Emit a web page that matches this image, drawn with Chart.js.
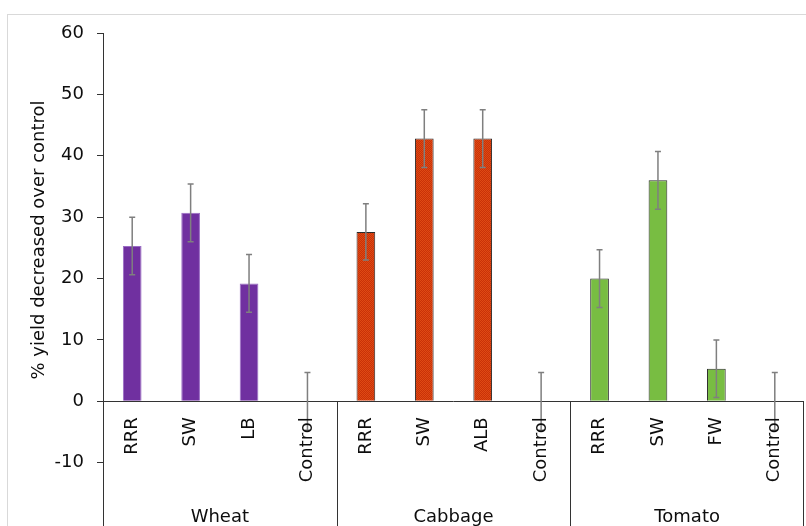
<!DOCTYPE html>
<html>
<head>
<meta charset="utf-8">
<script src="https://cdn.jsdelivr.net/npm/chart.js@4/dist/chart.umd.min.js"></script>
<style>
  html, body { margin: 0; padding: 0; background: #ffffff; overflow: hidden; }
  #frame { position: absolute; left: 7px; top: 14px; width: 840px; height: 600px; border: 1px solid #d9d9d9; box-sizing: border-box; }
  #c { position: absolute; left: 0; top: 0; width: 806px; height: 554px; }
</style>
</head>
<body>
<div id="frame"></div>
<canvas id="c" width="806" height="554"></canvas>
<script>
// ---- data ----
const categories = ["RRR", "SW", "LB", "Control", "RRR", "SW", "ALB", "Control", "RRR", "SW", "FW", "Control"];
const crops = ["Wheat", "Cabbage", "Tomato"];
const cropOfCategory = ["Wheat", "Wheat", "Wheat", "Wheat", "Cabbage", "Cabbage", "Cabbage", "Cabbage", "Tomato", "Tomato", "Tomato", "Tomato"];
const yieldDecrease = [25.3, 30.7, 19.2, 0, 27.6, 42.8, 42.8, 0, 20.0, 36.0, 5.3, 0];
const errorValues = [4.7, 4.7, 4.7, 4.7, 4.6, 4.7, 4.7, 4.7, 4.7, 4.7, 4.7, 4.7];
const yTicks = [-10, 0, 10, 20, 30, 40, 50, 60];
const yTitle = "% yield decreased over control";

// ---- styles ----
const FONT = "'DejaVu Sans', Verdana, sans-serif";
const TEXT = "#0d0d0d";
const AXIS = "#333333";

function cabbagePattern() {
  const p = document.createElement('canvas');
  p.width = 2; p.height = 2;
  const g = p.getContext('2d');
  g.fillStyle = '#c93108'; g.fillRect(0, 0, 2, 2);
  g.fillStyle = '#de4a14'; g.fillRect(0, 0, 1, 1); g.fillRect(1, 1, 1, 1);
  return g.createPattern(p, 'repeat');
}
const cropFill = { Wheat: '#7030a0', Cabbage: cabbagePattern(), Tomato: '#78bd42' };
const cropBorder = { Wheat: '#9a6cc4', Cabbage: '#2b2b2b', Tomato: '#2b2b2b' };

const decorPlugin = {
  id: 'decor',
  afterDatasetsDraw(chart) {
    const ctx = chart.ctx;
    const xs = chart.scales.x, ys = chart.scales.y;
    const area = chart.chartArea;
    const meta = chart.getDatasetMeta(0);
    const y0 = ys.getPixelForValue(0);
    ctx.save();
    // horizontal axis at zero
    ctx.strokeStyle = AXIS; ctx.lineWidth = 1;
    ctx.beginPath();
    ctx.moveTo(area.left, Math.round(y0) + 0.5);
    ctx.lineTo(area.right, Math.round(y0) + 0.5);
    ctx.stroke();
    // group separators
    const bounds = [];
    for (let i = 1; i < categories.length; i++) {
      if (cropOfCategory[i] !== cropOfCategory[i - 1]) {
        bounds.push((xs.getPixelForValue(i - 1) + xs.getPixelForValue(i)) / 2);
      }
    }
    bounds.push(area.right - 1);
    bounds.forEach(bx => {
      ctx.beginPath();
      ctx.moveTo(Math.round(bx) + 0.5, y0);
      ctx.lineTo(Math.round(bx) + 0.5, chart.height);
      ctx.stroke();
    });
    // error bars
    ctx.strokeStyle = '#7f7f7f'; ctx.lineWidth = 1.5;
    yieldDecrease.forEach((v, i) => {
      const x = meta.data[i].x;
      const top = ys.getPixelForValue(v + errorValues[i]);
      const bot = ys.getPixelForValue(v - errorValues[i]);
      ctx.beginPath();
      ctx.moveTo(x, top); ctx.lineTo(x, bot);
      ctx.moveTo(x - 3, top); ctx.lineTo(x + 3, top);
      ctx.moveTo(x - 3, bot); ctx.lineTo(x + 3, bot);
      ctx.stroke();
    });
    // category labels (rotated)
    ctx.fillStyle = TEXT;
    ctx.font = "18px " + FONT;
    ctx.textAlign = 'right';
    ctx.textBaseline = 'middle';
    categories.forEach((lab, i) => {
      const x = meta.data[i].x;
      ctx.save();
      ctx.translate(x, y0 + 16);
      ctx.rotate(-Math.PI / 2);
      ctx.fillText(lab, 0, 0);
      ctx.restore();
    });
    // crop group labels
    ctx.textAlign = 'center';
    ctx.textBaseline = 'alphabetic';
    crops.forEach(crop => {
      const idx = [];
      cropOfCategory.forEach((c, i) => { if (c === crop) idx.push(i); });
      const cx = (xs.getPixelForValue(idx[0]) + xs.getPixelForValue(idx[idx.length - 1])) / 2;
      ctx.fillText(crop, cx, y0 + 121);
    });
    // y axis title
    ctx.save();
    ctx.translate(39, 240);
    ctx.rotate(-Math.PI / 2);
    ctx.textBaseline = 'middle';
    ctx.fillText(yTitle, 0, 0);
    ctx.restore();
    ctx.restore();
  }
};

new Chart(document.getElementById('c'), {
  type: 'bar',
  data: {
    labels: categories,
    datasets: [{
      data: yieldDecrease,
      backgroundColor: cropOfCategory.map(c => cropFill[c]),
      borderColor: cropOfCategory.map(c => cropBorder[c]),
      borderWidth: 1,
      barPercentage: 0.32,
      categoryPercentage: 1
    }]
  },
  options: {
    responsive: false,
    maintainAspectRatio: false,
    animation: false,
    devicePixelRatio: 1,
    events: [],
    layout: { padding: { left: 0, right: 2, top: 33, bottom: 11.5 } },
    plugins: { legend: { display: false }, tooltip: { enabled: false } },
    scales: {
      x: { display: false },
      y: {
        min: -21, max: 60,
        afterBuildTicks(scale) { scale.ticks = yTicks.map(v => ({ value: v })); },
        afterFit(scale) { scale.width = 103; },
        border: { display: true, color: AXIS, width: 1 },
        grid: { drawOnChartArea: false, drawTicks: true, tickLength: 6, color: AXIS },
        ticks: { color: TEXT, font: { family: FONT, size: 18 }, padding: 13 }
      }
    }
  },
  plugins: [decorPlugin]
});
</script>
</body>
</html>
